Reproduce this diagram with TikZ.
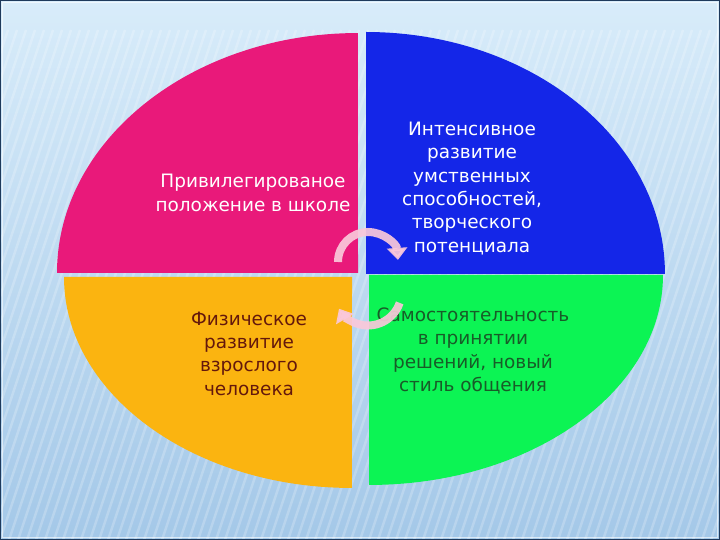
\documentclass[tikz,border=0pt]{standalone}
\usepackage{fontspec}
\setmainfont{DejaVu Sans}
\usetikzlibrary{arrows.meta}
\definecolor{bgtop}{RGB}{216,236,250}
\definecolor{bgbot}{RGB}{164,200,232}
\definecolor{qmag}{RGB}{233,25,122}
\definecolor{qblue}{RGB}{20,38,232}
\definecolor{qorange}{RGB}{251,180,16}
\definecolor{qgreen}{RGB}{12,244,84}
\definecolor{txtor}{RGB}{100,24,12}
\definecolor{txtgr}{RGB}{24,92,40}
\definecolor{arrpink}{RGB}{250,200,218}
\definecolor{framec}{RGB}{30,58,92}
\begin{document}
\begin{tikzpicture}[x=0.02cm,y=-0.02cm,
  lbl/.style={align=center, font=\fontsize{10.5}{13.3}\selectfont, inner sep=0pt},
  cyc/.style={arrpink, opacity=0.92, line width=0.16cm, -{Triangle[length=0.24cm,width=0.4cm]}}]
\useasboundingbox (0,0) rectangle (720,540);
% background
\shade[top color=bgtop, bottom color=bgbot] (0,0) rectangle (720,540);
\begin{scope}
  \clip (0,30) rectangle (720,540);
  \foreach \i in {-20,...,110} {
    \draw[white, opacity=0.22, line width=0.05cm] (\i*9,540) -- ++(170,-510);
  }
\end{scope}
\draw[white, opacity=0.6, line width=0.02cm] (2.5,2.5) rectangle (717.5,537.5);
\draw[framec, line width=0.04cm] (0.5,0.5) rectangle (719.5,539.5);
% quadrants
\fill[qmag] (358,273) -- (57,273) arc[start angle=180,end angle=90,x radius=6.02cm,y radius=4.8cm] -- cycle;
\fill[qblue] (366,274) -- (366,32) arc[start angle=90,end angle=0,x radius=5.98cm,y radius=4.84cm] -- cycle;
\fill[qorange] (352,277) -- (64,277) arc[start angle=180,end angle=270,x radius=5.76cm,y radius=4.22cm] -- cycle;
\fill[qgreen] (369,275) -- (663,275) arc[start angle=0,end angle=-90,x radius=5.88cm,y radius=4.2cm] -- cycle;
% labels
\node[lbl, text=white] (t1) at (253,193) {Привилегированое\\положение в школе};
\node[lbl, text=white] (t2) at (472,188.5) {Интенсивное\\развитие\\умственных\\способностей,\\творческого\\потенциала};
\node[lbl, text=txtor] (t3) at (249,353.5) {Физическое\\развитие\\взрослого\\человека};
\node[lbl, text=txtgr] (t4) at (473,351) {Самостоятельность\\в принятии\\решений, новый\\стиль общения};
% cycle arrows
\coordinate (c1) at (368,262);
\coordinate (c2) at (368,292);
\draw[cyc] ([shift={(180:0.6cm)}]c1) arc[start angle=180,end angle=4,radius=0.6cm];
\draw[cyc] ([shift={(-19:0.67cm)}]c2) arc[start angle=-19,end angle=-150,radius=0.67cm];
\end{tikzpicture}
\end{document}
